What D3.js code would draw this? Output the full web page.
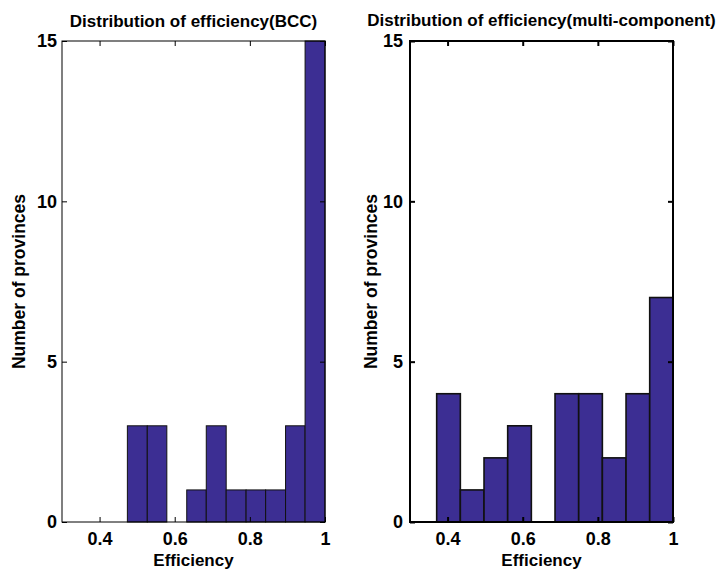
<!DOCTYPE html>
<html>
<head>
<meta charset="utf-8">
<script src="https://cdn.jsdelivr.net/npm/d3@7"></script>
<style>
  body { margin: 0; background: #fff; }
  text { font-family: "Liberation Sans", Arial, sans-serif; font-weight: bold; fill: #000; }
</style>
</head>
<body>
<svg id="chart" width="717" height="569"></svg>
<script>
// histogram bin edges and counts
const bccEdges = [0.474, 0.527, 0.579, 0.632, 0.684, 0.737, 0.790, 0.842, 0.895, 0.947, 1.0];
const bccCounts = [3, 3, 0, 1, 3, 1, 1, 1, 3, 15];

const multiEdges = [0.371, 0.434, 0.497, 0.560, 0.623, 0.686, 0.749, 0.812, 0.875, 0.938, 1.0];
const multiCounts = [4, 1, 2, 3, 0, 4, 4, 2, 4, 7];

const xTicks = [0.4, 0.6, 0.8, 1];
const yTicks = [0, 5, 10, 15];

const titles = ["Distribution of efficiency(BCC)", "Distribution of efficiency(multi-component)"];
const xLabel = "Efficiency";
const yLabel = "Number of provinces";

const svg = d3.select("#chart");

function drawPanel(opts) {
  const { left, right, top, bottom, edges, counts, title, lw, labelX } = opts;

  const x = d3.scaleLinear().domain([0.3, 1]).range([left, right]);
  const y = d3.scaleLinear().domain([0, 15]).range([bottom, top]);

  const g = svg.append("g");

  let bins = counts.map((c, i) => ({ x0: edges[i], x1: edges[i + 1], n: c }));

  g.selectAll(".bar")
    .data(bins.filter(d => d.n > 0))
    .enter().append("rect")
    .attr("class", "bar")
    .attr("x", d => x(d.x0))
    .attr("y", d => y(d.n))
    .attr("width", d => x(d.x1) - x(d.x0))
    .attr("height", d => y(0) - y(d.n))
    .attr("fill", "#3c2e93")
    .attr("stroke", "#111")
    .attr("stroke-width", lw === 1 ? 1 : 1.6);

  // bottom axis, ticks inward
  const xAxis = d3.axisBottom(x).tickValues(xTicks).tickSize(-5).tickPadding(12)
    .tickFormat(d => d === 1 ? "1" : d3.format(".1f")(d));
  const ax = g.append("g").attr("transform", `translate(0,${bottom})`).call(xAxis);
  ax.select(".domain").remove();
  ax.selectAll(".tick line").attr("stroke", "#000").attr("stroke-width", lw);
  ax.selectAll(".tick text").attr("font-size", 18).attr("dy", "0.72em").attr("y", 10);

  // top ticks mirrored
  const axTop = g.append("g").attr("transform", `translate(0,${top})`)
    .call(d3.axisTop(x).tickValues(xTicks).tickSize(-5).tickFormat(""));
  axTop.select(".domain").remove();
  axTop.selectAll(".tick line").attr("stroke", "#000").attr("stroke-width", lw);

  // left axis, ticks inward
  const yAxis = d3.axisLeft(y).tickValues(yTicks).tickSize(-5).tickPadding(opts.yPad);
  const ay = g.append("g").attr("transform", `translate(${left},0)`).call(yAxis);
  ay.select(".domain").remove();
  ay.selectAll(".tick line").attr("stroke", "#000").attr("stroke-width", lw);
  ay.selectAll(".tick text").attr("font-size", 18);

  const ayR = g.append("g").attr("transform", `translate(${right},0)`)
    .call(d3.axisRight(y).tickValues(yTicks).tickSize(-5).tickFormat(""));
  ayR.select(".domain").remove();
  ayR.selectAll(".tick line").attr("stroke", "#000").attr("stroke-width", lw);

  // box
  g.append("rect")
    .attr("x", left).attr("y", top)
    .attr("width", right - left).attr("height", bottom - top)
    .attr("fill", "none").attr("stroke", "#000").attr("stroke-width", lw);

  // titles and labels
  g.append("text")
    .attr("x", (left + right) / 2).attr("y", opts.titleY)
    .attr("text-anchor", "middle").attr("font-size", 17)
    .text(title);

  g.append("text")
    .attr("x", (left + right) / 2).attr("y", 566)
    .attr("text-anchor", "middle").attr("font-size", 17)
    .text(xLabel);

  g.append("text")
    .attr("transform", `translate(${labelX},${(top + bottom) / 2}) rotate(-90)`)
    .attr("text-anchor", "middle").attr("font-size", 17.5)
    .text(yLabel);
}

drawPanel({
  left: 62, right: 325, top: 41, bottom: 522,
  edges: bccEdges, counts: bccCounts, title: titles[0],
  lw: 1, labelX: 25, yPad: 5, titleY: 27
});

drawPanel({
  left: 410, right: 673, top: 41, bottom: 522,
  edges: multiEdges, counts: multiCounts, title: titles[1],
  lw: 2, labelX: 377, yPad: 7, titleY: 26
});
</script>
</body>
</html>
